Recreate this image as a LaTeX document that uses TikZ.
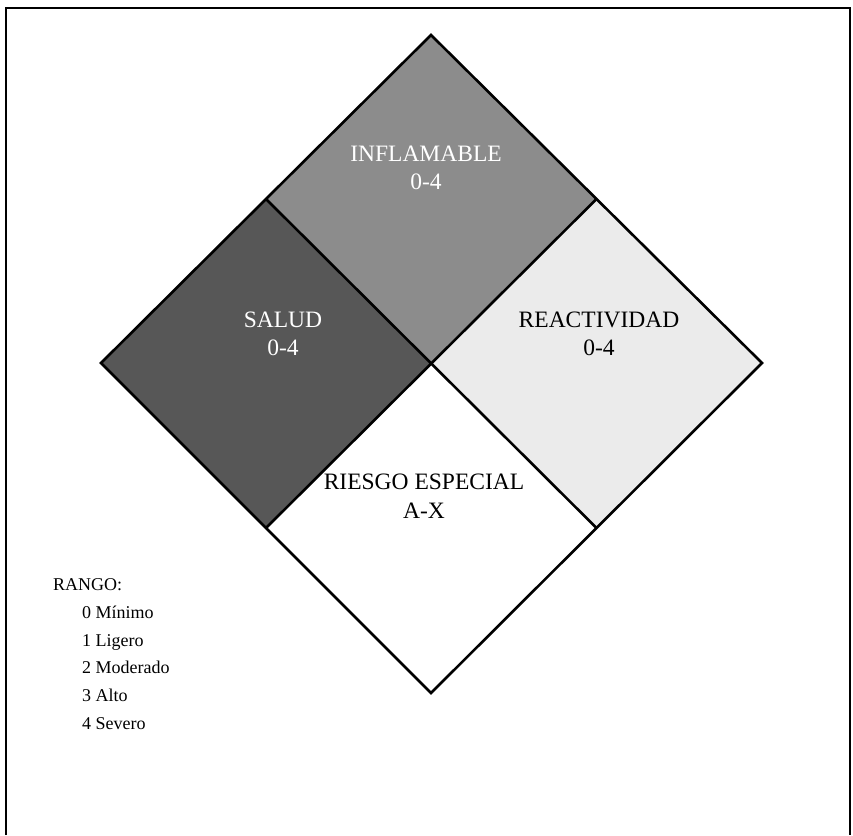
\documentclass[tikz,border=0pt]{standalone}
\usepackage{fontspec}
\setmainfont{Liberation Serif}
\usetikzlibrary{calc}
\begin{document}
\begin{tikzpicture}[x=1pt,y=-1pt,
  quad/.style={draw=black,line width=2.6pt,line join=miter},
  lbl/.style={align=center,font=\fontsize{23.5}{28.5}\selectfont,inner sep=0pt},
  leg/.style={anchor=base west,font=\fontsize{18}{21}\selectfont,inner sep=0pt}]
\useasboundingbox (0,0) rectangle (853,835);
\fill[white] (0,0) rectangle (853,835);
% frame
\draw[line width=2.4pt] (6,835) -- (6,8) -- (850,8) -- (850,835);
% diamond points
\coordinate (T) at (431,35);
\coordinate (L) at (101,363);
\coordinate (R) at (762,363);
\coordinate (B) at (431,693);
\coordinate (C) at (431,363);
\coordinate (TL) at ($(T)!0.5!(L)$);
\coordinate (TR) at ($(T)!0.5!(R)$);
\coordinate (BL) at ($(B)!0.5!(L)$);
\coordinate (BR) at ($(B)!0.5!(R)$);
\fill[black!45] (T) -- (TR) -- (C) -- (TL) -- cycle;
\fill[black!66] (TL) -- (C) -- (BL) -- (L) -- cycle;
\fill[black!8] (TR) -- (R) -- (BR) -- (C) -- cycle;
\fill[white] (C) -- (BR) -- (B) -- (BL) -- cycle;
\draw[quad] (T) -- (R) -- (B) -- (L) -- cycle;
\draw[quad] (TL) -- (BR);
\draw[quad] (TR) -- (BL);
% labels
\node[lbl,text=white] (inf) at (426,168) {INFLAMABLE\\0-4};
\node[lbl,text=white] (sal) at (283,334) {SALUD\\0-4};
\node[lbl] (rea) at (599,334) {REACTIVIDAD\\0-4};
\node[lbl] (rie) at (424,496) {RIESGO ESPECIAL\\A-X};
% legend
\node[leg] (rango) at (53,590) {RANGO:};
\node[leg] (l0) at (82,618) {0 Mínimo};
\node[leg] (l1) at (82,646) {1 Ligero};
\node[leg] (l2) at (82,673) {2 Moderado};
\node[leg] (l3) at (82,701) {3 Alto};
\node[leg] (l4) at (82,729) {4 Severo};
\end{tikzpicture}
\end{document}
